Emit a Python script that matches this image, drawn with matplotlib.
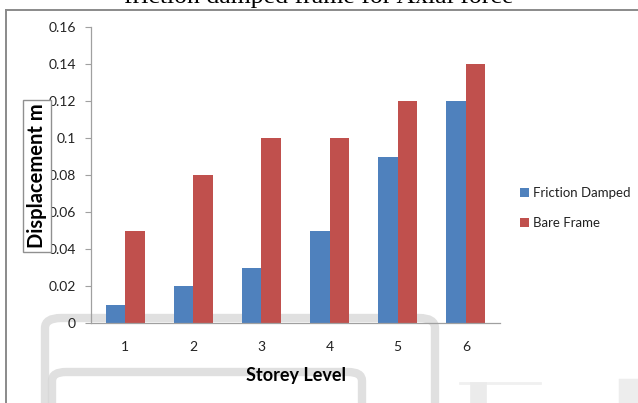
import matplotlib
matplotlib.use("Agg")
import matplotlib.pyplot as plt
import numpy as np
from matplotlib.patches import FancyBboxPatch
from matplotlib.lines import Line2D

storeys = ["1", "2", "3", "4", "5", "6"]
friction_damped = [0.01, 0.02, 0.03, 0.05, 0.09, 0.12]
bare_frame = [0.05, 0.08, 0.10, 0.10, 0.12, 0.14]
series_names = ["Friction Damped", "Bare Frame"]
y_ticks = [0, 0.02, 0.04, 0.06, 0.08, 0.10, 0.12, 0.14, 0.16]
y_tick_labels = ["0", "0.02", "0.04", "0.06", "0.08", "0.1", "0.12", "0.14", "0.16"]
title_text = "friction damped frame for Axial force"

BLUE = "#4F81BD"
RED = "#C0504D"
FONT = "Lato"
W, H = 638, 403

fig = plt.figure(figsize=(W / 100, H / 100), dpi=100)
fig.patch.set_facecolor("white")


def fx(px):
    return px / W


def fy(py):
    return 1 - py / H


# faint grey rounded outlines in the background
bg_shapes = [
    (45, 318, 390, 140, 16),
    (52, 372, 310, 80, 14),
]
for x0, y0, w, h, r in bg_shapes:
    patch = FancyBboxPatch((fx(x0), fy(y0 + h)), fx(w), h / H,
                           boxstyle=f"round,pad=0,rounding_size={r / W}",
                           transform=fig.transFigure, facecolor="none",
                           edgecolor="#d6d6d6", linewidth=6, alpha=0.75,
                           zorder=0, clip_on=False)
    fig.add_artist(patch)
fig.add_artist(Line2D([fx(460), fx(540)], [fy(383), fy(383)], transform=fig.transFigure,
                      color="#f0f0f0", lw=2, zorder=0))
fig.add_artist(Line2D([fx(478), fx(478)], [fy(390), fy(403)], transform=fig.transFigure,
                      color="#ebebeb", lw=12, zorder=0))
fig.add_artist(Line2D([fx(628), fx(628)], [fy(388), fy(403)], transform=fig.transFigure,
                      color="#ededed", lw=14, zorder=0))

# chart frame edges
fig.add_artist(Line2D([fx(6), fx(638)], [fy(10), fy(10)], transform=fig.transFigure,
                      color="#8a8a8a", lw=1.4))
fig.add_artist(Line2D([fx(6), fx(6)], [fy(10), fy(403)], transform=fig.transFigure,
                      color="#8a8a8a", lw=1.4))

# title (partly above the top edge)
fig.text(0.5, fy(3), title_text, ha="center", va="baseline",
         fontsize=18.5, family="Liberation Serif", color="black")

ax = fig.add_axes([fx(91), fy(323), fx(500 - 91), (323 - 27) / H])
ax.set_facecolor("none")

x = np.arange(len(storeys))
bw = 0.285
ax.bar(x - bw / 2, friction_damped, width=bw, color=BLUE, label=series_names[0], zorder=2)
ax.bar(x + bw / 2, bare_frame, width=bw, color=RED, label=series_names[1], zorder=2)

ax.set_xlim(-0.5, len(storeys) - 0.5)
ax.set_ylim(0, 0.16)
ax.set_yticks(y_ticks)
ax.set_yticklabels(y_tick_labels)
ax.set_xticks(x)
ax.set_xticklabels(storeys)

for s in ["top", "right"]:
    ax.spines[s].set_visible(False)
for s in ["left", "bottom"]:
    ax.spines[s].set_color("#a0a0a0")
    ax.spines[s].set_linewidth(0.9)

ax.tick_params(axis="y", direction="out", length=4, width=0.8, color="#a0a0a0",
               pad=7, labelsize=10, labelcolor="#222222")
ax.tick_params(axis="x", length=0, pad=13, labelsize=10, labelcolor="#222222")
for lab in ax.get_xticklabels() + ax.get_yticklabels():
    lab.set_family(FONT)

ax.set_xlabel("Storey Level", fontsize=13, fontweight="bold", family=FONT)
ax.xaxis.set_label_coords(0.5, -(376 - 323) / (323 - 27), transform=ax.transAxes)
ax.xaxis.label.set_va("center")

fig.text(fx(37), fy(176), "Displacement m", rotation=90, ha="center", va="center",
         fontsize=14.5, fontweight="bold", family=FONT,
         bbox=dict(boxstyle="square,pad=0.2", facecolor="white", edgecolor="#909090",
                   linewidth=1.0))

leg = ax.legend(loc="center left", bbox_to_anchor=(fx(520), fy(208)),
                bbox_transform=fig.transFigure, frameon=False,
                prop={"family": FONT, "size": 9.5},
                borderaxespad=0, borderpad=0,
                handlelength=0.65, handleheight=0.65, handletextpad=0.35,
                labelspacing=1.35)
for t in leg.get_texts():
    t.set_color("#222222")

fig.savefig("out.png", dpi=100, facecolor="white")
